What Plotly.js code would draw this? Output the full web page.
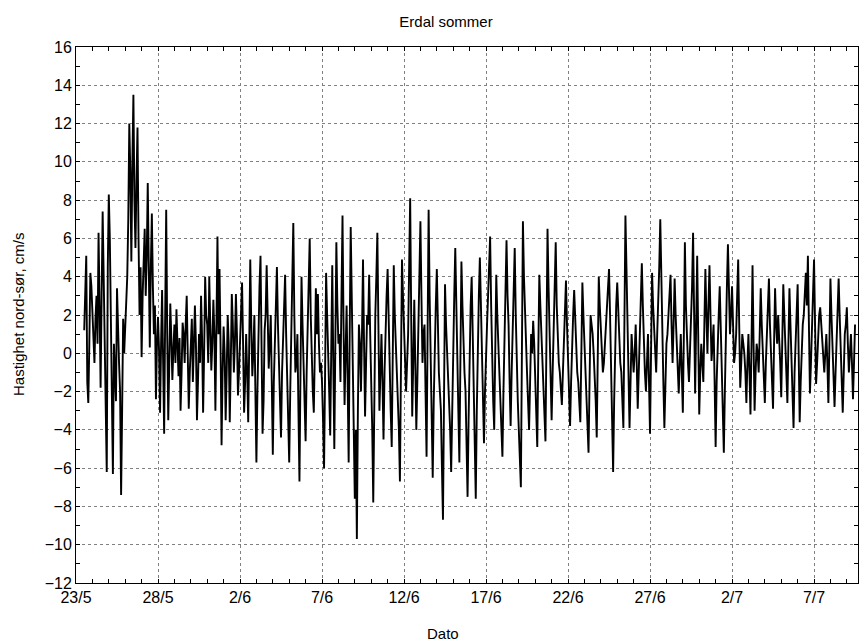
<!DOCTYPE html>
<html>
<head>
<meta charset="utf-8">
<script src="https://cdn.plot.ly/plotly-3.0.1.min.js"></script>
<style>
  html, body { margin: 0; padding: 0; background: #fff; }
  #chart { width: 861px; height: 644px; }
</style>
</head>
<body>
<div id="chart"></div>
<script>
// North-south current speed (cm/s), readings every 1.5 h from 23/5 12:00
const startTime = Date.UTC(1999, 4, 23, 12, 0);
const stepHours = 1.5;

const speed = [
  1.2, 3.0, 5.1, -1.5, -2.6, 0.5, 4.2, 3.5,                                         // 23/5 (from 12:00)
  2.0, 1.5, -0.5, 1.8, 3.0, 0.5, 6.3, 2.5, -1.8, 3.0, 7.4, 4.0, 1.0, -2.5, -6.2, 4.5, // 24/5
  8.3, 6.0, 2.0, -3.5, -6.3, 0.5, -1.0, -2.5, 3.4, 1.0, -0.5, -2.0, -7.4, -3.0, 1.8, 0.0, // 25/5
  1.5, 2.5, 4.0, 7.0, 12.0, 9.5, 4.8, 10.0, 13.5, 8.0, 5.5, 9.0, 11.8, 6.0, 2.0, 4.5,  // 26/5
  -0.2, 3.0, 5.7, 6.5, 3.0, 5.0, 8.9, 4.0, 0.3, 4.5, 7.3, 3.5, 1.0, 2.5, -2.4, 0.5,    // 27/5
  1.9, 0.2, -3.1, 0.5, 3.3, -0.5, -4.2, 2.0, 7.5, 1.0, -3.5, -0.5, 2.6, 0.8, -1.4, 0.2, // 28/5
  1.5, -0.5, 2.3, 0.5, -1.2, 0.8, -3.0, -1.0, 1.6, 1.0, -0.5, 1.5, 3.0, 0.0, -2.9, -1.0, // 29/5
  0.9, 1.8, -1.5, 0.2, 2.5, 0.5, -3.5, -1.5, 1.0, -0.5, 3.0, 0.8, -3.1, 0.0, 4.0, 2.0,  // 30/5
  1.5, -0.5, 4.0, 1.5, -0.9, 0.5, 2.8, 1.0, -3.0, 1.5, 6.1, 1.0, 4.4, 0.5, -4.8, -1.0,  // 31/5
  1.4, 0.0, -3.5, -1.0, 2.0, 0.5, -3.6, -0.5, 3.1, 1.5, -1.0, 0.5, 3.1, 1.0, -2.2, -1.0, // 1/6
  0.5, 2.0, 3.7, 0.5, -3.1, -1.5, 1.0, -1.0, -3.6, 0.5, 4.9, 1.5, -1.2, 0.0, 2.0, -2.0, // 2/6
  -5.7, -2.0, 1.5, 3.5, 5.1, 0.0, -4.2, -2.5, 1.2, 2.0, 4.6, 2.0, -0.8, 0.5, 2.0, -1.5, // 3/6
  -5.3, -1.5, 1.0, 2.5, 4.5, 1.5, -1.0, -3.0, -4.4, -1.0, 1.0, 2.5, 4.1, 1.0, -1.2, -3.0, // 4/6
  -5.7, -2.0, 1.5, 4.5, 6.8, 2.0, -1.0, -0.5, 1.0, -3.0, -6.7, -1.0, 4.0, 1.5, -0.5, -2.5, // 5/6
  -4.6, -1.0, 1.0, 3.5, 6.0, 2.0, -1.0, -2.0, -3.1, 0.5, 3.4, 1.0, 3.1, 0.5, -1.0, -0.5, // 6/6
  -1.5, -3.5, -6.0, -1.0, 4.2, 2.0, 0.5, -2.0, -4.3, 0.0, 4.6, -0.5, -5.0, 0.5, 5.8, 2.5, // 7/6
  0.5, 1.0, -1.5, 3.0, 7.2, 1.5, -2.7, 0.0, 2.5, -1.5, -5.7, 1.0, 6.6, 3.0, 0.0, -3.5,  // 8/6
  -7.6, -4.0, -9.7, -3.0, 1.5, 0.5, -2.0, 1.0, 4.9, 0.5, -3.3, -0.5, 2.0, 1.5, 4.1, 1.0, // 9/6
  -1.0, -4.0, -7.8, -2.5, 2.0, 4.0, 6.3, 1.5, -3.0, -1.0, 1.0, -1.5, -4.5, -1.0, 2.0, 3.0, // 10/6
  4.4, 1.5, -1.0, -3.0, -4.9, 0.0, 4.6, 2.0, 0.5, -0.5, -2.0, -4.0, -6.7, -1.0, 4.9, 3.0, // 11/6
  1.5, 0.0, -2.0, -0.5, 1.0, 4.5, 8.1, 2.0, -3.3, -0.5, 2.8, -0.5, -4.0, -1.5, 1.5, 4.0, // 12/6
  6.9, 3.0, -0.5, 1.0, 1.5, -2.0, -5.4, 1.0, 7.5, 3.0, 0.0, -3.0, -6.5, -2.5, 1.0, 2.5, // 13/6
  4.4, 1.5, -1.0, -2.0, -3.0, -6.0, -8.7, -2.5, 3.6, 1.5, 0.0, -1.0, -2.0, -4.0, -6.2, -2.5, // 14/6
  1.0, 3.0, 5.5, 2.0, -0.5, -3.0, -5.7, -0.5, 4.8, 2.5, 0.5, -1.0, -2.0, -5.0, -7.5, -3.5, // 15/6
  0.5, 2.5, 4.0, 1.0, -2.0, -5.0, -7.6, -3.0, 1.0, 3.0, 5.0, 2.5, 1.0, -2.0, -4.7, -2.0, // 16/6
  0.5, 1.5, 3.0, 4.5, 6.1, 2.5, -1.0, -2.5, -4.0, 0.0, 4.1, 2.0, 0.5, -1.0, -2.5, -4.0, // 17/6
  -5.4, -2.0, 1.0, 3.5, 5.9, 3.0, 1.5, -1.5, -3.8, -1.0, 1.0, 3.0, 5.5, 2.0, -1.0, -2.5, // 18/6
  -4.0, -5.5, -7.0, 0.0, 6.9, 4.0, 2.0, 0.5, -1.0, -2.5, -4.0, -1.5, 1.0, 0.0, 1.7, 0.5, // 19/6
  -1.5, -3.0, -4.9, 0.0, 4.1, 2.5, 1.0, 0.0, -1.0, -3.0, -4.6, 1.0, 6.5, 3.5, 1.0, -1.5, // 20/6
  -3.5, -1.0, 1.0, 3.5, 5.8, 2.5, 0.5, -0.5, -1.0, -2.0, -2.7, -1.0, 1.0, 2.5, 3.8, 1.5, // 21/6
  -0.5, -2.0, -3.8, -1.5, 1.0, 2.0, 3.3, 1.5, 0.0, -1.0, -1.5, -2.5, -3.6, 0.0, 3.7, 2.0, // 22/6
  0.5, -0.5, -1.5, -3.5, -5.2, -1.5, 2.0, 1.5, 1.0, 0.0, -1.0, -2.5, -4.4, 0.0, 4.0, 2.5, // 23/6
  1.5, 0.0, -1.0, -0.5, 0.5, 1.0, 2.0, 3.0, 4.4, 2.0, -0.5, -3.5, -6.2, -2.5, 1.0, 2.5, // 24/6
  3.7, 2.0, 0.5, -0.5, -1.0, -2.5, -3.9, 1.5, 7.2, 4.5, 2.0, -1.0, -3.9, -1.5, 1.0, 0.0, // 25/6
  -1.0, 0.0, 1.5, -0.5, -2.9, -1.0, 1.0, 3.0, 4.7, 2.5, 0.5, -1.0, -2.0, -0.5, 1.0, -1.5, // 26/6
  -4.2, 0.0, 4.2, 2.5, 1.0, 0.0, -1.0, 1.0, 2.5, 4.5, 7.0, 3.5, 1.0, -1.5, -3.9, -1.5, // 27/6
  0.5, 1.0, 2.0, 3.0, 4.1, 1.5, -0.5, 1.5, 3.9, 2.0, 0.5, -1.0, -2.1, -0.5, 1.0, -1.0, // 28/6
  -3.1, 1.0, 5.8, 2.5, 0.5, -0.5, -1.5, 0.0, 1.0, 3.5, 6.3, 2.0, -2.1, 1.5, 5.1, 1.0,  // 29/6
  -3.2, -1.0, 0.5, -0.5, -1.5, 1.5, 4.4, 2.0, 0.0, 2.5, 4.6, 2.0, -0.4, 0.5, 1.5, -1.5, // 30/6
  -4.9, -1.5, 1.0, 2.0, 3.5, 1.5, -0.5, -3.0, -5.2, -2.0, 1.5, 3.5, 5.7, 3.0, 1.0, 2.0, // 1/7
  3.5, 1.5, -0.5, 0.0, 1.0, 3.0, 4.9, 1.5, -1.8, -0.5, 1.0, 0.5, 0.0, -1.0, -2.6, -0.5, // 2/7
  1.0, -1.0, -3.2, 0.5, 4.6, 0.5, -3.0, -1.0, 0.5, 0.0, -1.0, 1.0, 3.4, 1.5, 0.0, -1.0, // 3/7
  -2.6, -0.5, 1.0, 2.5, 3.9, 1.5, 0.0, -1.5, -2.9, 0.5, 3.4, 1.5, 0.5, 2.0, 1.0, -0.5, // 4/7
  -2.3, 0.5, 3.6, 2.0, 0.5, -1.0, -2.6, 0.5, 3.4, 1.5, 0.0, -2.0, -3.9, -1.0, 1.0, 2.5, // 5/7
  3.6, 0.0, -3.6, -1.5, 0.5, 1.5, 2.0, 3.0, 4.2, 2.5, 5.1, 1.5, -2.1, -0.5, 1.0, 2.5,  // 6/7
  4.9, 1.5, -1.6, -0.5, 1.0, 2.0, 2.4, 1.5, 0.5, -0.5, -1.0, 0.0, 1.0, -0.5, -2.6, 0.5, // 7/7
  3.9, 2.0, 0.5, -1.0, -2.8, -1.0, 1.0, 2.5, 3.9, 2.0, 0.0, -1.5, -3.1, -1.0, 1.0, 1.5, // 8/7
  2.4, 0.5, -1.0, 0.0, 1.0, -0.5, -2.4, -0.5, 1.5                                    // 9/7
];

// Date tick positions and their labels
const tickDates = ['1999-05-23', '1999-05-28', '1999-06-02', '1999-06-07', '1999-06-12',
                   '1999-06-17', '1999-06-22', '1999-06-27', '1999-07-02', '1999-07-07'];
const tickLabels = ['23/5', '28/5', '2/6', '7/6', '12/6', '17/6', '22/6', '27/6', '2/7', '7/7'];

function pad(n) { return (n < 10 ? '0' : '') + n; }
function stamp(ms) {
  const d = new Date(ms);
  return d.getUTCFullYear() + '-' + pad(d.getUTCMonth() + 1) + '-' + pad(d.getUTCDate()) +
         ' ' + pad(d.getUTCHours()) + ':' + pad(d.getUTCMinutes());
}
const times = speed.map((_, i) => stamp(startTime + i * stepHours * 3600 * 1000));

const font = { family: 'Liberation Sans, Arial, sans-serif', color: '#000' };

const trace = {
  x: times,
  y: speed,
  type: 'scatter',
  mode: 'lines',
  line: { color: '#000', width: 1.9 },
  hoverinfo: 'x+y'
};

const axisCommon = {
  showline: true,
  linecolor: '#000',
  linewidth: 1,
  mirror: 'allticks',
  ticks: 'inside',
  ticklen: 4,
  tickcolor: '#000',
  showgrid: true,
  gridcolor: '#808080',
  griddash: 'dot',
  gridwidth: 1,
  zeroline: false,
  tickfont: Object.assign({ size: 16 }, font)
};

const layout = {
  width: 861,
  height: 644,
  paper_bgcolor: '#fff',
  plot_bgcolor: '#fff',
  margin: { l: 76, r: 3, t: 47, b: 61 },
  showlegend: false,
  title: {
    text: 'Erdal sommer',
    font: Object.assign({ size: 15 }, font),
    xref: 'container', x: 446 / 861, xanchor: 'center',
    yref: 'container', y: 1 - 22 / 644, yanchor: 'middle'
  },
  xaxis: Object.assign({}, axisCommon, {
    type: 'date',
    range: ['1999-05-23 00:00', '1999-07-09 16:20'],
    tickmode: 'array',
    tickvals: tickDates,
    ticktext: tickLabels,
    minor: { dtick: 86400000, tick0: '1999-05-23', ticks: 'inside', ticklen: 4, tickcolor: '#000', showgrid: false }
  }),
  yaxis: Object.assign({}, axisCommon, {
    range: [-12, 16],
    dtick: 2,
    tick0: 0,
    minor: { dtick: 1, ticks: 'inside', ticklen: 4, tickcolor: '#000', showgrid: false }
  }),
  annotations: [
    {
      text: 'Dato', showarrow: false,
      xref: 'paper', x: (443 - 76) / 782, xanchor: 'center',
      yref: 'paper', y: (583 - 633) / 536, yanchor: 'middle',
      font: Object.assign({ size: 15 }, font)
    },
    {
      text: 'Hastighet nord-sør, cm/s', showarrow: false, textangle: -90,
      xref: 'paper', x: (18 - 76) / 782, xanchor: 'center',
      yref: 'paper', y: 0.5, yanchor: 'middle',
      font: Object.assign({ size: 15 }, font)
    }
  ]
};

Plotly.newPlot('chart', [trace], layout, { staticPlot: true, displayModeBar: false });
</script>
</body>
</html>
